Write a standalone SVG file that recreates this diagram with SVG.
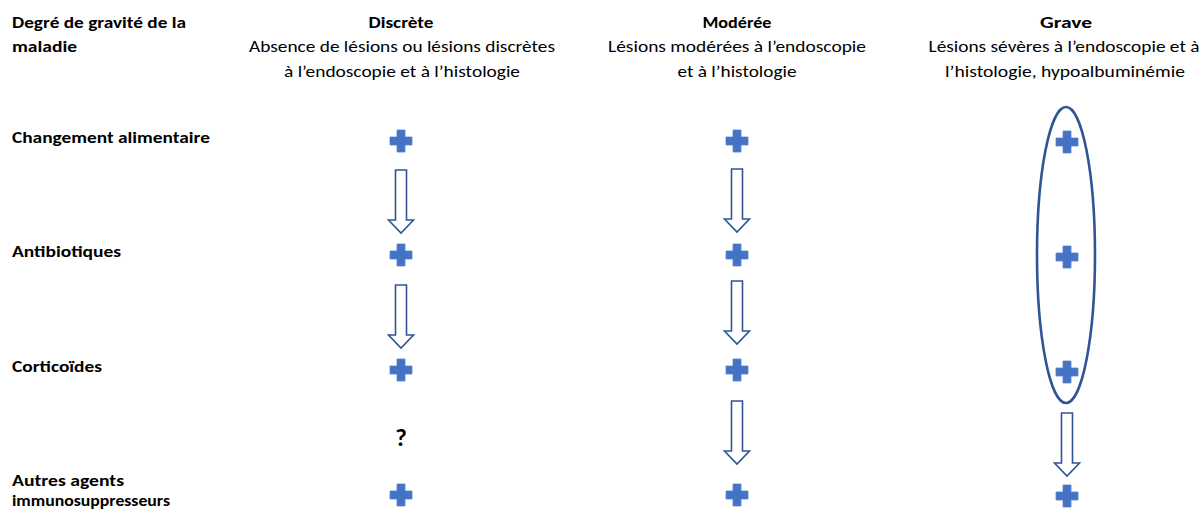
<svg xmlns="http://www.w3.org/2000/svg" xmlns:xlink="http://www.w3.org/1999/xlink" width="1203" height="511" viewBox="0 0 1203 511">
  <style>
    text { font-family: Carlito, Calibri, "Liberation Sans", sans-serif; font-size: 16px; fill: #000; }
    .b { font-weight: bold; }
    .m { text-anchor: middle; }
    .plus { fill: #4472C4; stroke: #5B82CC; stroke-width: 0.8; }
    .arrow { fill: #fff; stroke: #2F5597; stroke-width: 1.6; stroke-linejoin: miter; }
    .group { fill: none; stroke: #2F5597; stroke-width: 2.6; }
  </style>
  <defs>
    <path id="plus" d="M-4,-11 h8 v7 h7 v8 h-7 v7 h-8 v-7 h-7 v-8 h7 z"/>
    <path id="down" d="M-5.5,0 H5.5 V50 H12.5 L0,63 L-12.5,50 H-5.5 Z"/>
  </defs>
  <rect width="1203" height="511" fill="#fff"/>

  <!-- column headers -->
  <g id="header-severity">
    <text class="b" x="12" y="28" textLength="174" lengthAdjust="spacingAndGlyphs">Degré de gravité de la</text>
    <text class="b" x="12" y="52" textLength="65" lengthAdjust="spacingAndGlyphs">maladie</text>
  </g>
  <g id="header-discrete">
    <text class="b m" x="401" y="28" textLength="65" lengthAdjust="spacingAndGlyphs">Discrète</text>
    <text class="m" x="402" y="52" textLength="306" lengthAdjust="spacingAndGlyphs">Absence de lésions ou lésions discrètes</text>
    <text class="m" x="402" y="77" textLength="236" lengthAdjust="spacingAndGlyphs">à l’endoscopie et à l’histologie</text>
  </g>
  <g id="header-moderee">
    <text class="b m" x="737" y="28" textLength="69" lengthAdjust="spacingAndGlyphs">Modérée</text>
    <text class="m" x="737" y="52" textLength="258" lengthAdjust="spacingAndGlyphs">Lésions modérées à l’endoscopie</text>
    <text class="m" x="737" y="77" textLength="119" lengthAdjust="spacingAndGlyphs">et à l’histologie</text>
  </g>
  <g id="header-grave">
    <text class="b m" x="1066" y="28" textLength="52" lengthAdjust="spacingAndGlyphs">Grave</text>
    <text class="m" x="1064" y="52" textLength="271" lengthAdjust="spacingAndGlyphs">Lésions sévères à l’endoscopie et à</text>
    <text class="m" x="1065" y="77" textLength="240" lengthAdjust="spacingAndGlyphs">l’histologie, hypoalbuminémie</text>
  </g>

  <!-- row labels -->
  <g id="row-alimentaire">
    <text class="b" x="12" y="143" textLength="198" lengthAdjust="spacingAndGlyphs">Changement alimentaire</text>
  </g>
  <g id="row-antibiotiques">
    <text class="b" x="12" y="257" textLength="109" lengthAdjust="spacingAndGlyphs">Antibiotiques</text>
  </g>
  <g id="row-corticoides">
    <text class="b" x="12" y="372" textLength="90" lengthAdjust="spacingAndGlyphs">Corticoïdes</text>
  </g>
  <g id="row-immuno">
    <text class="b" x="12" y="486" textLength="112" lengthAdjust="spacingAndGlyphs">Autres agents</text>
    <text class="b" x="12" y="506" textLength="158" lengthAdjust="spacingAndGlyphs">immunosuppresseurs</text>
  </g>

  <!-- treatment marks -->
  <g id="col-discrete">
    <use href="#plus" class="plus" x="401" y="141"/>
    <use href="#plus" class="plus" x="401" y="255"/>
    <use href="#plus" class="plus" x="401" y="370"/>
    <text class="b m" x="401" y="446" style="font-size:25px">?</text>
    <use href="#plus" class="plus" x="401" y="495"/>
  </g>
  <g id="col-moderee">
    <use href="#plus" class="plus" x="737" y="141"/>
    <use href="#plus" class="plus" x="737" y="255"/>
    <use href="#plus" class="plus" x="737" y="370"/>
    <use href="#plus" class="plus" x="737" y="495"/>
  </g>
  <g id="col-grave">
    <ellipse class="group" cx="1066" cy="255" rx="29" ry="148"/>
    <use href="#plus" class="plus" x="1067" y="142"/>
    <use href="#plus" class="plus" x="1067" y="257"/>
    <use href="#plus" class="plus" x="1067" y="372"/>
    <use href="#plus" class="plus" x="1067" y="496"/>
  </g>

  <!-- step-up arrows -->
  <g id="connectors">
    <use href="#down" class="arrow" x="401" y="170"/>
    <use href="#down" class="arrow" x="401" y="285"/>
    <use href="#down" class="arrow" x="737" y="169"/>
    <use href="#down" class="arrow" x="737" y="281"/>
    <use href="#down" class="arrow" x="737" y="401"/>
    <use href="#down" class="arrow" x="1067" y="413"/>
  </g>
</svg>
